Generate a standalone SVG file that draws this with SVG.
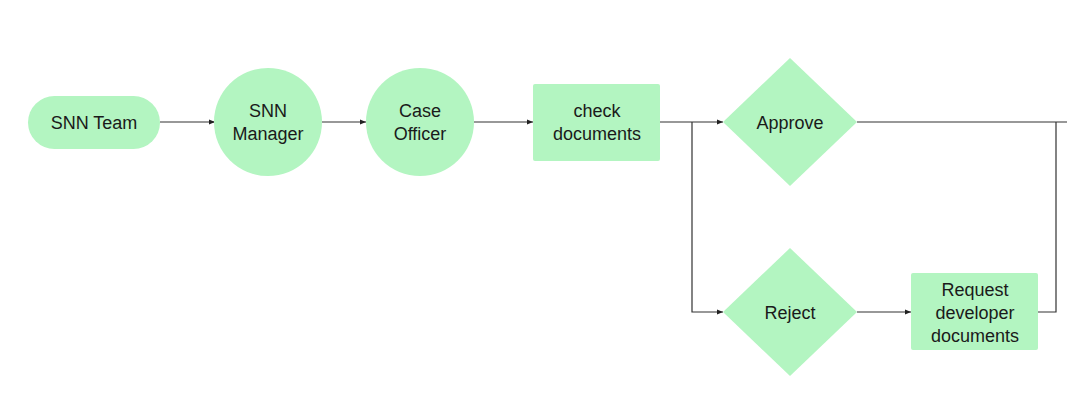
<svg xmlns="http://www.w3.org/2000/svg" width="1067" height="400" viewBox="0 0 1067 400">
<style>
.n{fill:#b3f5c1;}
.t{font-family:"Liberation Sans",Arial,sans-serif;font-size:18px;fill:#1a1a1a;text-anchor:middle;}
.c{fill:none;stroke:#333;stroke-width:1.2;}
</style>
<defs>
<marker id="a" markerWidth="8" markerHeight="8" refX="7" refY="4" orient="auto" markerUnits="userSpaceOnUse">
<path d="M1,1.5 L7,4 L1,6.5 Z" fill="#222"/>
</marker>
</defs>
<rect width="1067" height="400" fill="#fff"/>
<g id="connectors">
<line class="c" x1="160" y1="122" x2="215" y2="122" marker-end="url(#a)"/>
<line class="c" x1="322" y1="122" x2="366" y2="122" marker-end="url(#a)"/>
<line class="c" x1="474" y1="122" x2="533" y2="122" marker-end="url(#a)"/>
<line class="c" x1="660" y1="122" x2="723" y2="122" marker-end="url(#a)"/>
<polyline class="c" points="692,122 692,312 723,312" marker-end="url(#a)"/>
<line class="c" x1="857" y1="122" x2="1067" y2="122"/>
<line class="c" x1="857" y1="312" x2="911" y2="312" marker-end="url(#a)"/>
<polyline class="c" points="1038,312 1056,312 1056,122"/>
</g>
<g id="snn-team">
<rect class="n" x="28" y="96" width="132" height="53" rx="26.5"/>
<text class="t" x="94" y="129">SNN Team</text>
</g>
<g id="snn-manager">
<circle class="n" cx="268" cy="122" r="54"/>
<text class="t" x="268" y="117">SNN</text>
<text class="t" x="268" y="140">Manager</text>
</g>
<g id="case-officer">
<circle class="n" cx="420" cy="122" r="54"/>
<text class="t" x="420" y="117">Case</text>
<text class="t" x="420" y="140">Officer</text>
</g>
<g id="check-documents">
<rect class="n" x="533" y="84" width="127" height="77" rx="2"/>
<text class="t" x="597" y="117">check</text>
<text class="t" x="597" y="140">documents</text>
</g>
<g id="approve">
<polygon class="n" points="790,58 857,122 790,186 723,122"/>
<text class="t" x="790" y="129">Approve</text>
</g>
<g id="reject">
<polygon class="n" points="790,248 857,312 790,376 723,312"/>
<text class="t" x="790" y="319">Reject</text>
</g>
<g id="request-developer-documents">
<rect class="n" x="911" y="273" width="127" height="77" rx="2"/>
<text class="t" x="975" y="296">Request</text>
<text class="t" x="975" y="319">developer</text>
<text class="t" x="975" y="342">documents</text>
</g>
</svg>
